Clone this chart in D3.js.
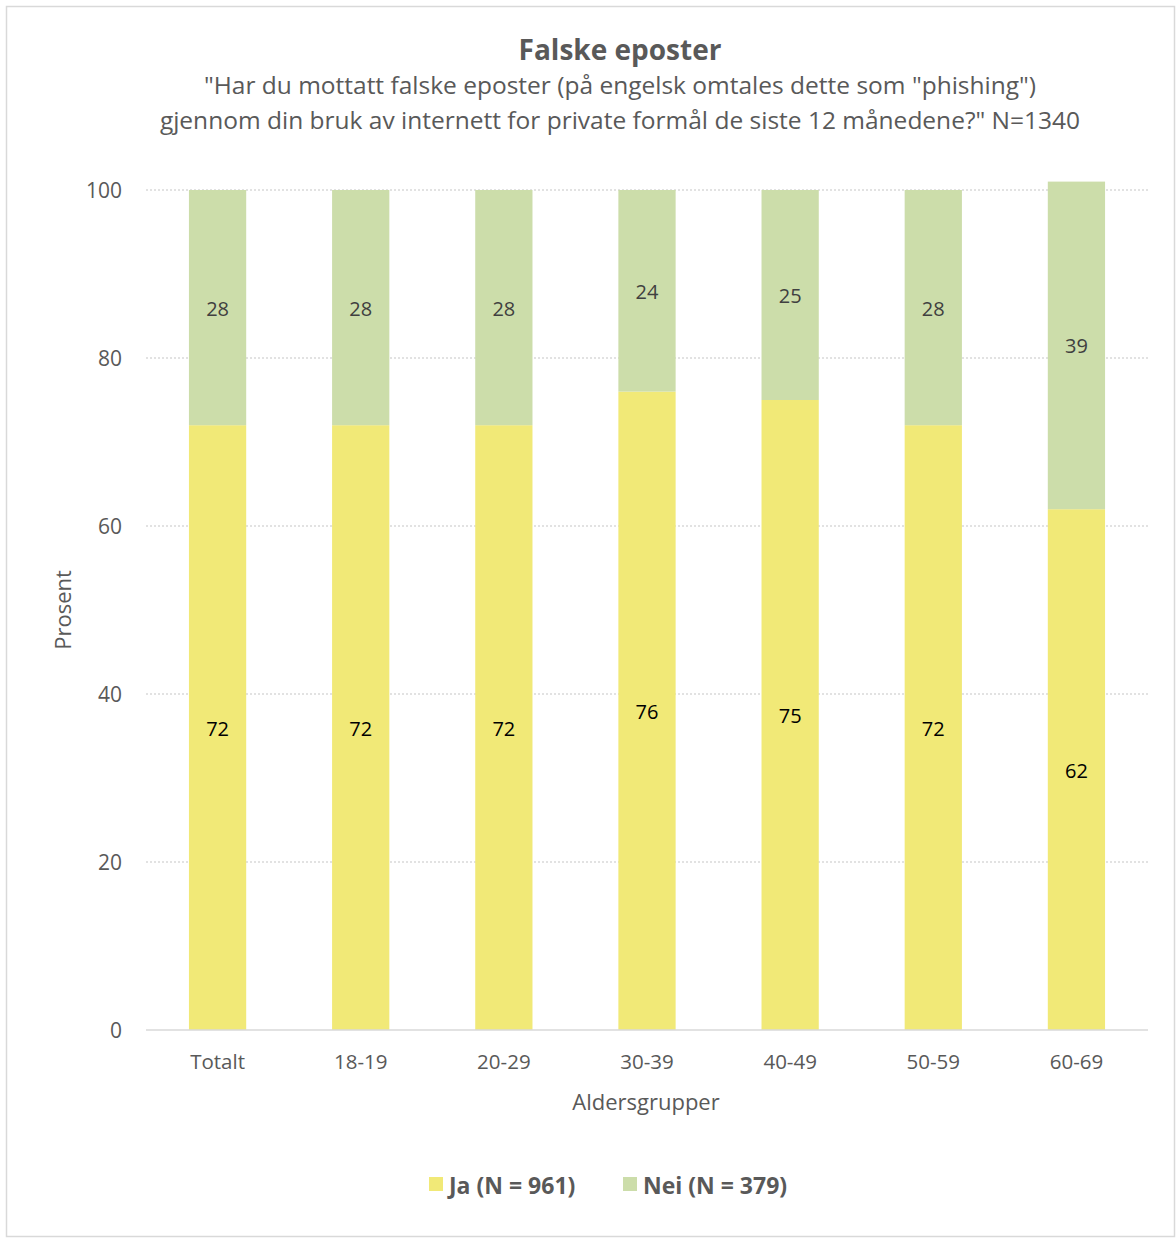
<!DOCTYPE html>
<html><head><meta charset="utf-8">
<script src="https://cdn.jsdelivr.net/npm/d3@7"></script>
<style>body{margin:0;background:#fff}svg{display:block;font-family:"Open Sans","Liberation Sans",sans-serif}</style>
</head><body>
<svg id="c" width="1176" height="1238"></svg>
<script>
const categories = ["Totalt","18-19","20-29","30-39","40-49","50-59","60-69"];
const jaValues = [72,72,72,76,75,72,62];
const neiValues = [28,28,28,24,25,28,39];
const seriesNames = ["Ja (N = 961)","Nei (N = 379)"];
const yTicks = [0,20,40,60,80,100];

const svg = d3.select("#c");
const W = 1176, H = 1238;
const m = {left:146, right:1148, top:190, bottom:1030};
const colors = ["#F1E977","#CCDDAA"];

svg.append("rect").attr("x",6.5).attr("y",6.5).attr("width",W-8).attr("height",H-8)
  .attr("fill","#fff").attr("stroke","#d9d9d9").attr("stroke-width",1.5);

const x = d3.scaleBand().domain(categories).range([m.left,m.right]).paddingInner(0.6).paddingOuter(0.3);
const y = d3.scaleLinear().domain([0,100]).range([m.bottom,m.top]);

// gridlines
svg.append("g").selectAll("line").data(yTicks.filter(d=>d>0)).join("line")
  .attr("x1",m.left).attr("x2",m.right).attr("y1",d=>y(d)).attr("y2",d=>y(d))
  .attr("stroke","#d9d9d9").attr("stroke-width",1.3).attr("stroke-dasharray","2,2");

const data = categories.map((c,i)=>({c, ja:jaValues[i], nei:neiValues[i]}));
const stack = d3.stack().keys(["ja","nei"])(data);

const g = svg.append("g");
stack.forEach((s,si)=>{
  g.selectAll(null).data(s).join("rect")
    .attr("x",d=>x(d.data.c)).attr("width",x.bandwidth())
    .attr("y",d=>y(d[1])).attr("height",d=>y(d[0])-y(d[1]))
    .attr("fill",colors[si]);
  g.selectAll(null).data(s).join("text")
    .attr("x",d=>x(d.data.c)+x.bandwidth()/2)
    .attr("y",d=>y((d[0]+d[1])/2)+1)
    .attr("dy","0.35em").attr("text-anchor","middle")
    .attr("font-size",20).attr("fill",si===0?"#000":"#404040")
    .text(d=>d[1]-d[0]);
});

// x axis line
svg.append("line").attr("x1",m.left).attr("x2",m.right).attr("y1",y(0)).attr("y2",y(0))
  .attr("stroke","#d9d9d9").attr("stroke-width",1.5);

// y ticks
const yAxis = d3.axisLeft(y).tickValues(yTicks).tickSize(0).tickPadding(24);
const ya = svg.append("g").attr("transform",`translate(${m.left},0)`).call(yAxis);
ya.select(".domain").remove();
ya.selectAll("text").attr("font-size",21).attr("fill","#595959").attr("font-family","'Open Sans',sans-serif").attr("dy","0.38em");

// x ticks
const xAxis = d3.axisBottom(x).tickSize(0).tickPadding(24);
const xa = svg.append("g").attr("transform",`translate(0,${m.bottom})`).call(xAxis);
xa.select(".domain").remove();
xa.selectAll("text").attr("font-size",20.5).attr("fill","#595959").attr("font-family","'Open Sans',sans-serif");

// titles
svg.append("text").attr("x",620).attr("y",60).attr("text-anchor","middle")
  .attr("font-size",28).attr("font-weight","bold").attr("fill","#595959").text("Falske eposter");
svg.append("text").attr("x",620).attr("y",94).attr("text-anchor","middle")
  .attr("font-size",24.5).attr("fill","#595959")
  .text('"Har du mottatt falske eposter (på engelsk omtales dette som "phishing")');
svg.append("text").attr("x",620).attr("y",129).attr("text-anchor","middle")
  .attr("font-size",24.5).attr("fill","#595959")
  .text('gjennom din bruk av internett for private formål de siste 12 månedene?" N=1340');

svg.append("text").attr("x",646).attr("y",1110).attr("text-anchor","middle")
  .attr("font-size",22).attr("fill","#595959").text("Aldersgrupper");
svg.append("text").attr("transform","translate(71,610) rotate(-90)").attr("text-anchor","middle")
  .attr("font-size",22).attr("fill","#595959").text("Prosent");

// legend
const legX = [429,623];
seriesNames.forEach((n,i)=>{
  svg.append("rect").attr("x",legX[i]).attr("y",1177).attr("width",14).attr("height",14).attr("fill",colors[i]);
  svg.append("text").attr("x",legX[i]+20).attr("y",1194).attr("font-size",23).attr("font-weight","bold")
    .attr("fill","#595959").text(n);
});
</script>
</body></html>
